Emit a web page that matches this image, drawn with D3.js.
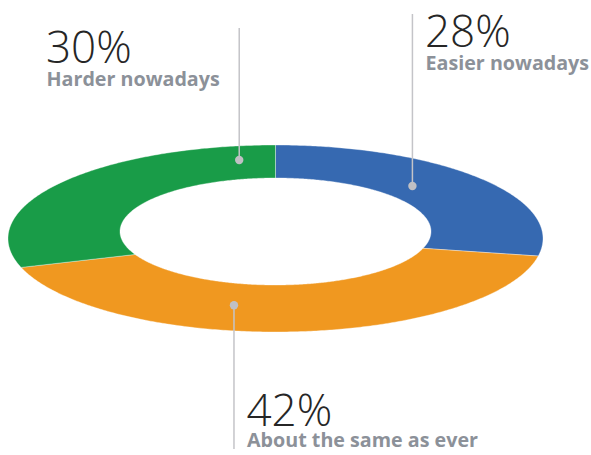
<!DOCTYPE html>
<html>
<head>
<meta charset="utf-8">
<script src="https://cdn.jsdelivr.net/npm/d3@7/dist/d3.min.js"></script>
<style>
  html, body { margin: 0; padding: 0; background: #fff; }
  svg { display: block; }
  .pct { font-family: "Open Sans", sans-serif; font-weight: 300; fill: #262626; }
  .lbl { font-family: "Open Sans", sans-serif; font-weight: 700; fill: #8c9199; }
</style>
</head>
<body>
<svg id="chart" width="591" height="455"></svg>
<script>
// Survey answers, in clockwise order starting at 12 o'clock
const categories = ["Easier nowadays", "About the same as ever", "Harder nowadays"];
const values = [28, 42, 30];
const valueLabels = ["28%", "42%", "30%"];
const colors = ["#3669b1", "#f09820", "#199c48"];

const W = 591, H = 455;
const svg = d3.select("#chart");

// Flattened ring: outer ellipse and a slightly raised hole
const cx = 275.5, cy = 238.5;
const rx = 267.5, ry = 93.5;
const hole = { rx: 155.5, ry: 53.5, dy: 7 };

const pie = d3.pie().value(d => d).sort(null);
const arcs = pie(values);

// Point along the ray at angle a (radians, clockwise from top); t = 1 is the rim
function rayPt(a, t) {
  return [cx + t * rx * Math.sin(a), cy - t * ry * Math.cos(a)];
}
// Where the ray from the ring centre at angle a meets the hole edge
function innerPt(a) {
  const dx = rx * Math.sin(a), dyv = -ry * Math.cos(a);
  const A = (dx / hole.rx) ** 2 + (dyv / hole.ry) ** 2;
  const B = 2 * dyv * hole.dy / (hole.ry * hole.ry);
  const C = (hole.dy / hole.ry) ** 2 - 1;
  const t = (-B + Math.sqrt(B * B - 4 * A * C)) / (2 * A);
  return rayPt(a, t);
}

const line = d3.line();
function slicePath(d) {
  const span = d.endAngle - d.startAngle;
  const n = Math.max(8, Math.ceil(span / 0.01));
  const outer = d3.range(n + 1).map(i => rayPt(d.startAngle + span * i / n, 1));
  const inner = d3.range(n + 1).map(i => innerPt(d.endAngle - span * i / n));
  return line(outer.concat(inner)) + "Z";
}

svg.append("g").selectAll("path")
  .data(arcs)
  .join("path")
  .attr("d", slicePath)
  .attr("fill", (d, i) => colors[i])
  .attr("stroke", "#ffffff")
  .attr("stroke-opacity", 0.45)
  .attr("stroke-width", 0.8);

// Callouts: anchor (fraction of slice, distance along ray), leader end, text spot
const callouts = [
  { i: 0, f: 0.42, t: 0.76, lineEnd: 14, tx: 425, ty: 47, gap: 22.6 },
  { i: 1, f: 0.605, t: 0.73, lineEnd: 449, tx: 246.5, ty: 425.5, gap: 21 },
  { i: 2, f: 0.915, t: 0.85, lineEnd: 28, tx: 46, ty: 63.3, gap: 22.7 }
];

const g = svg.append("g");
callouts.forEach(c => {
  const d = arcs[c.i];
  const a = d.startAngle + (d.endAngle - d.startAngle) * c.f;
  const p = rayPt(a, c.t);
  g.append("line")
    .attr("x1", p[0]).attr("y1", p[1])
    .attr("x2", p[0]).attr("y2", c.lineEnd)
    .attr("stroke", "#c4c4c8").attr("stroke-width", 1.5);
  g.append("circle")
    .attr("cx", p[0]).attr("cy", p[1]).attr("r", 4.2)
    .attr("fill", "#c0c0c4");
  g.append("text").attr("class", "pct")
    .attr("x", c.tx).attr("y", c.ty)
    .attr("font-size", 44)
    .text(valueLabels[c.i]);
  g.append("text").attr("class", "lbl")
    .attr("x", c.tx + 0.5).attr("y", c.ty + c.gap)
    .attr("font-size", 19.7)
    .text(categories[c.i]);
});
</script>
</body>
</html>
